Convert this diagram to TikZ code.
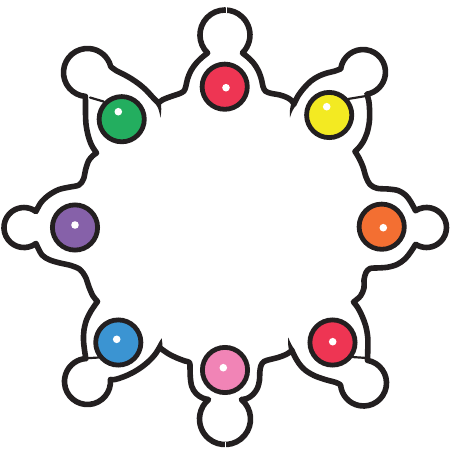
\documentclass[tikz,border=0pt]{standalone}
\usepackage{tikz}
\definecolor{ink}{HTML}{231F20}
\definecolor{cRed}{HTML}{EE3553}
\definecolor{cYellow}{HTML}{F3EA22}
\definecolor{cOrange}{HTML}{F36F32}
\definecolor{cPink}{HTML}{F184B6}
\definecolor{cBlue}{HTML}{3B94D2}
\definecolor{cPurple}{HTML}{8661A9}
\definecolor{cGreen}{HTML}{23AE5F}
\tikzset{
  outline/.style={draw=ink, line width=5.6pt, line join=round, line cap=round},
  sm/.style={smooth, tension=0.55},
  thinline/.style={draw=ink, line width=2.2pt, line cap=round},
  tipshape/.style={fill=ink},
  seam/.style={draw=white, line width=0.7pt},
  ball/.style={circle, draw=ink, line width=4.8pt, minimum size=45.2pt, inner sep=0pt},
  dot/.style={circle, fill=white, minimum size=7.6pt, inner sep=0pt}
}
\begin{document}
\begin{tikzpicture}[x=1pt,y=-1pt]
\useasboundingbox (0,0) rectangle (453,448);
% outline
\draw[outline]
  plot[sm] coordinates {(158.3,103) (163,99.6) (171,96.5) (179,93.8) (183.8,91.2) (185.8,86.5) (187.5,79) (191,70.5) (196.5,62.8) (202.5,57) (207.6,53)}
  arc[start angle=134, end angle=406, radius=25]
  -- plot[sm] coordinates {(242.4,53) (247.5,57) (253.5,63) (258.5,71) (261.5,79.5) (263,86.5) (265.5,91.2) (271,93.3) (280,95) (287,97.5) (291.5,100.5) (294,104)}
  -- plot[sm] coordinates {(294,104) (298,96) (304,88) (311,81) (319,76) (327,73) (334,71.3) (340.7,68.9)}
  arc[start angle=188, end angle=440, radius=22.5]
  -- plot[sm] coordinates {(366.9,94.2) (368.8,101) (369.6,111) (369.3,122) (367,133) (363,142) (359,147.5) (355,151.5)}
  -- plot[sm] coordinates {(355,151.5) (359,158) (363,167) (366,177) (370,184.5) (377,188.3) (388,189) (398,190.5) (405.5,195) (410.5,201.5) (415.6,210.7)}
  arc[start angle=237, end angle=483, radius=20]
  -- plot[sm] coordinates {(415.6,244.3) (411,251.5) (405,259) (397,264.5) (387,267.3) (376,268) (370,268.5) (366,272.5) (364,280) (364,288) (360.5,296) (353.5,302)}
  -- plot[sm] coordinates {(353.5,302) (358,308) (362.5,317) (366,327) (367.8,338) (367.8,349) (367.5,360.35)}
  arc[start angle=280, end angle=535, radius=23]
  -- plot[sm] coordinates {(340.6,385) (336,382.5) (325,379.5) (314,375.5) (305,370) (299,363.5) (294.5,356) (292,350.5)}
  -- plot[sm] coordinates {(292,350.5) (286,354.5) (278,357.5) (270,359.5) (264,361.5) (261,365.5) (259.8,372) (259.5,380) (257.5,388) (253,394.5) (247,398.5) (241.4,399.5)}
  arc[start angle=310, end angle=590, radius=25.5]
  -- plot[sm] coordinates {(208.6,399.5) (202.5,398) (196,393.5) (191.8,386.5) (190.3,377) (190,368) (189.5,362.5) (185,361) (177,358) (168,353.5) (159.5,347.5)}
  -- plot[sm] coordinates {(159.5,347.5) (155,354.5) (149,361) (141,367.5) (132,373) (123,377) (115,379.5) (110.4,379.5)}
  arc[start angle=355, end angle=626, radius=23]
  -- plot[sm] coordinates {(85.9,358.6) (84.5,350) (83.5,340) (84,330) (86.5,320) (91,311) (97.5,301.5)}
  -- plot[sm] coordinates {(97.5,301.5) (93,296) (89,287) (85.5,277) (80,269.5) (71,265.5) (60,263) (50,260) (42,255) (36,243.5)}
  arc[start angle=53, end angle=307, radius=20]
  -- plot[sm] coordinates {(36,211.5) (41,202.5) (49,195) (59,189.5) (70,187) (79,185) (83.5,179) (85.5,170) (88.5,161) (92.5,156) (96.5,153)}
  -- plot[sm] coordinates {(96.5,153) (91.5,145) (88,135) (86,124) (85.5,113) (85.5,104) (85.4,96.4)}
  arc[start angle=95, end angle=346, radius=24]
  -- plot[sm] coordinates {(110.8,66.7) (116,70.5) (123,74) (131,78.5) (139,84) (146,90) (152,96.5) (158.3,103)}
  -- cycle;
% tapered tips
\fill[tipshape] (160.3,101) .. controls (161.8,106) and (161.4,112) .. (160.4,117.8) .. controls (159.6,112) and (158.5,108) .. (156.3,105) -- cycle;
\fill[tipshape] (291.6,102.7) .. controls (290,107) and (289.5,112) .. (290,117.5) .. controls (291.5,112) and (293.5,108) .. (296.4,105.3) -- cycle;
\fill[tipshape] (289.5,351.8) .. controls (288,347) and (287.8,342) .. (288.3,337.3) .. controls (289.8,342) and (292,346) .. (294.5,349.3) -- cycle;
\fill[tipshape] (157.2,346) .. controls (158.6,343) and (160,340.5) .. (161.7,338.3) .. controls (162.5,341.5) and (162.6,345) .. (161.8,349.1) -- cycle;
% thin lines between heads and balls
\coordinate (hy) at (366,96);   \coordinate (ey) at (348,99);
\coordinate (hr) at (367,358);  \coordinate (er) at (352,357);
\coordinate (hb) at (86,358.3); \coordinate (eb) at (98.5,357.5);
\coordinate (hg) at (90,97.5);  \coordinate (eg) at (103.5,101.5);
\draw[thinline] (hy) -- (ey);
\draw[thinline] (hr) -- (er);
\draw[thinline] (hb) -- (eb);
\draw[thinline] (hg) -- (eg);
% seams
\draw[seam] (226,6) -- (226,13);
\draw[seam] (225,441.5) -- (225,448);
% balls
\node[ball, fill=cRed]    (b1) at (224.7,86.7) {};
\node[ball, fill=cYellow] (b2) at (329.2,115) {};
\node[ball, fill=cOrange] (b3) at (381.7,226.7) {};
\node[ball, fill=cRed]    (b4) at (332.5,342.5) {};
\node[ball, fill=cPink]   (b5) at (225,370) {};
\node[ball, fill=cBlue]   (b6) at (118.3,342.5) {};
\node[ball, fill=cPurple] (b7) at (75,227.5) {};
\node[ball, fill=cGreen]  (b8) at (121.7,119.2) {};
\node[dot] (d1) at (226,87.7) {};
\node[dot] (d2) at (326.7,106.7) {};
\node[dot] (d3) at (383.3,227.7) {};
\node[dot] (d4) at (332.7,341.7) {};
\node[dot] (d5) at (223.3,367.7) {};
\node[dot] (d6) at (116.7,339.3) {};
\node[dot] (d7) at (75,225) {};
\node[dot] (d8) at (118.3,111.7) {};
\end{tikzpicture}
\end{document}
